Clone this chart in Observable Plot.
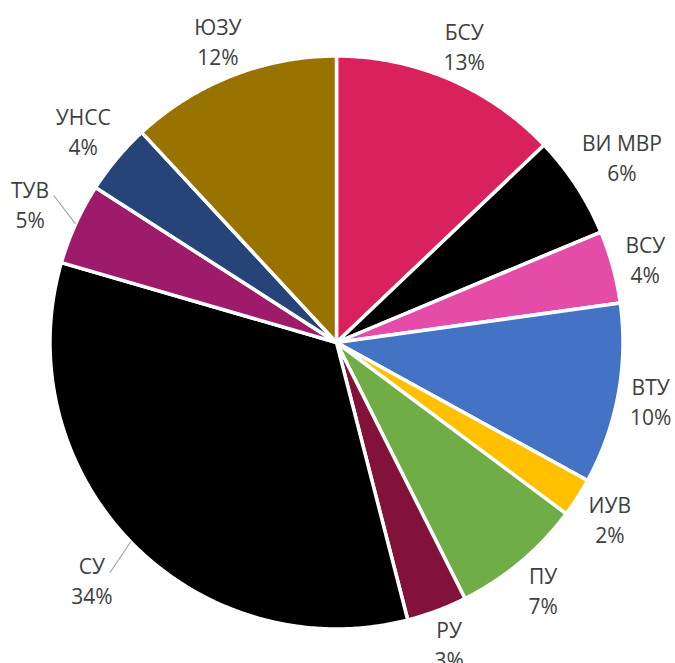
<!DOCTYPE html>
<html>
<head>
<meta charset="utf-8">
<script src="https://cdn.jsdelivr.net/npm/d3@7"></script>
<script src="https://cdn.jsdelivr.net/npm/@observablehq/plot@0.6"></script>
<style>
  html, body { margin: 0; padding: 0; background: #fff; }
  #chart svg { display: block; }
</style>
</head>
<body>
<div id="chart"></div>
<script>
// ---- data ----
const names  = ["БСУ", "ВИ МВР", "ВСУ", "ВТУ", "ИУВ", "ПУ", "РУ", "СУ", "ТУВ", "УНСС", "ЮЗУ"];
const shares = [12.9, 5.8, 4.1, 10.2, 2.2, 7.4, 3.4, 33.5, 4.6, 4.0, 11.9];
const colors = ["#D9215C", "#000000", "#E44CA8", "#4472C4", "#FFC000", "#70AD47", "#82123A", "#000000", "#9E1A6B", "#264478", "#997300"];
const leaderLabels = ["СУ", "ТУВ"];

// ---- layout ----
const W = 675, H = 663;
const CX = 336, CY = 342;
const R = 286.5;          // geometric radius (white border eats ~1.5px)
const RVIS = 285;         // visible radius
const FONT = "'Open Sans', 'Noto Sans', sans-serif";
const FS = 21;
const LH = 1.43;

const data = names.map((name, i) => ({name, share: shares[i], label: `${name}\n${Math.round(shares[i])}%`}));
const arcs = d3.pie().sort(null).value(d => d.share)(data);

// slice polygons in unit-circle data space (y up)
const slicePts = [];
for (const a of arcs) {
  const name = a.data.name;
  slicePts.push({name, x: 0, y: 0});
  const n = Math.max(2, Math.ceil((a.endAngle - a.startAngle) / (Math.PI / 360)));
  for (let k = 0; k <= n; k++) {
    const t = a.startAngle + (a.endAngle - a.startAngle) * k / n;
    slicePts.push({name, x: Math.sin(t), y: Math.cos(t)});
  }
}

// text measurement
const ctx = document.createElement("canvas").getContext("2d");
ctx.font = `${FS}px ${FONT}`;
const measure = s => ctx.measureText(s).width || s.length * FS * 0.6;

const labels = [];
const leaders = [];
for (const a of arcs) {
  const d = a.data;
  const th = (a.startAngle + a.endAngle) / 2;
  const s = Math.sin(th), c = Math.cos(th);
  const l1 = d.name, l2 = `${Math.round(d.share)}%`;
  const w1 = measure(l1), w2 = measure(l2);
  const w = Math.max(w1, w2), h = 45;
  const lead = leaderLabels.includes(d.name);
  const gap = lead ? 25 : 10;
  const ext = (w / 2) * Math.abs(s) + (h / 2) * Math.abs(c);
  const dist = (RVIS + gap + ext) / R;
  const lx = dist * s, ly = dist * c;
  labels.push({name: d.name, label: d.label, x: lx, y: ly});
  if (lead) {
    const side = Math.sign(s);
    const start = {name: d.name, x: s * (RVIS + 2) / R, y: c * (RVIS + 2) / R};
    const end = {name: d.name, x: lx - side * (w1 / 2 + 5) / R, y: ly + 7 / R};
    const pts = [start];
    if (Math.abs(start.x - end.x) > Math.abs(start.y - end.y)) {
      pts.push({name: d.name, x: end.x - side * 9.4 / R, y: end.y});
    }
    pts.push(end);
    leaders.push(...pts);
  }
}

const chart = Plot.plot({
  width: W,
  height: H,
  margin: 0,
  style: {fontFamily: FONT, background: "#fff"},
  x: {domain: [-1, 1], range: [CX - R, CX + R], axis: null},
  y: {domain: [-1, 1], range: [CY + R, CY - R], axis: null},
  color: {domain: names, range: colors},
  marks: [
    Plot.line(slicePts, {
      x: "x", y: "y", z: "name", fill: "name",
      stroke: "#ffffff", strokeWidth: 3.5, strokeLinejoin: "round",
      curve: "linear-closed"
    }),
    Plot.line(leaders, {
      x: "x", y: "y", z: "name",
      stroke: "#A6A6A6", strokeWidth: 1.2
    }),
    Plot.text(labels, {
      x: "x", y: "y", text: "label",
      fontSize: FS, lineHeight: LH, lineAnchor: "middle",
      textAnchor: "middle", fill: "#404040"
    })
  ]
});

document.getElementById("chart").appendChild(chart);
</script>
</body>
</html>
